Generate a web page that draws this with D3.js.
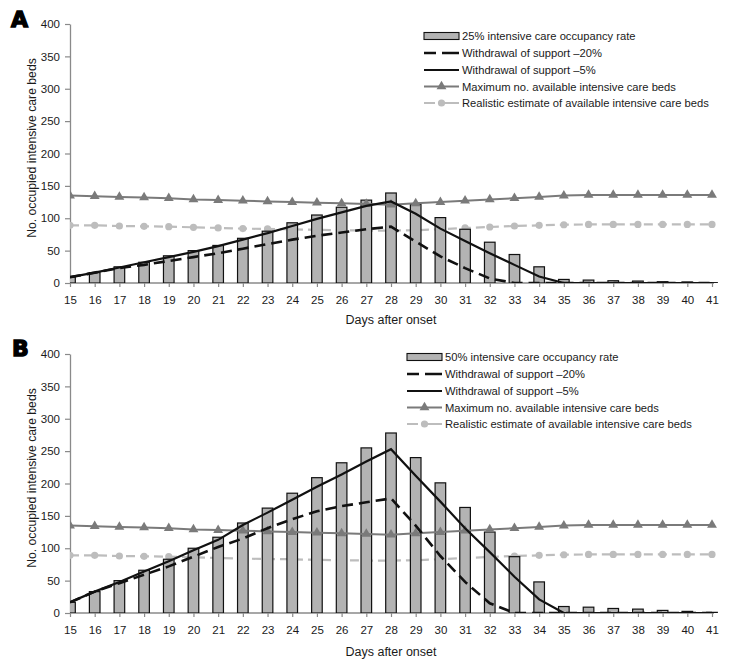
<!DOCTYPE html>
<html><head><meta charset="utf-8">
<script src="https://cdn.jsdelivr.net/npm/d3@7"></script>
<style>body{margin:0;background:#fff;} svg{display:block;font-family:"Liberation Sans",Arial,sans-serif;}</style>
</head><body><svg id="chart" width="750" height="669"></svg>
<script>
const days = [15,16,17,18,19,20,21,22,23,24,25,26,27,28,29,30,31,32,33,34,35,36,37,38,39,40,41];
const yTicks = [0,50,100,150,200,250,300,350,400];

const occupancyA = [9,16,25,32,42,50,58,69,80,93,105,117,128,139,122,101,83,63,44,25,5.5,4.5,3.5,3,2,1.5,0.5];
const withdraw5A = [9,16,24,32,40,48,57,67,77,88,99,109,119,126,107,84,65,46,28,10,0,0,0,0,0,0,0];
const withdraw20A = [9,16,23,28,34,40,46,53,60,67,73,78,83,87,64,41,23,7,0,0,0,0,0,0,0,0,0];

const occupancyB = [16.5,33,50,66,83,100,117,139,162,185,209,232,255,278,240,201,163,125,87,48,10,9,7,6,4,2.5,1];
const withdraw5B = [16.5,33,48,64,80,97,113,136,155,175,195,214,234,253,212,172,131,94,56,21,0,0,0,0,0,0,0];
const withdraw20B = [16.5,33,46,59,72,87,102,115,131,145,157,165,171,177,135,88,48,15,0,0,0,0,0,0,0,0,0];

const maxBeds = [135,134,133,132,131,129,128,127,126,125,124,123,122,121,123,125,127,129,131,133,135,136,136,136,136,136,136];
const realisticBeds = [89,89,88,87.5,87,86,85,84,83.5,83,82,81.5,81,81,81.5,83,85,86.5,88,89,90,90.5,90.5,90.5,90.5,90.5,90.5];

const legendLabelsA = ["25% intensive care occupancy rate","Withdrawal of support \u201320%","Withdrawal of support \u20135%","Maximum no. available intensive care beds","Realistic estimate of available intensive care beds"];
const legendLabelsB = ["50% intensive care occupancy rate","Withdrawal of support \u201320%","Withdrawal of support \u20135%","Maximum no. available intensive care beds","Realistic estimate of available intensive care beds"];

const svg = d3.select("#chart");
const C = {bar:"#b3b3b3", max:"#7a7a7a", real:"#bdbdbd", axis:"#8a8a8a", text:"#1a1a1a"};

function panel(id, cfg, occ, w5, w20, labels) {
  const g = svg.append("g");
  const x = d3.scalePoint().domain(days).range([70, 712]);
  const y = d3.scaleLinear().domain([0, 400]).range([cfg.y0, cfg.y1]);

  g.append("defs").append("clipPath").attr("id", "clip" + id)
    .append("rect").attr("x", 70).attr("y", cfg.y1 - 10).attr("width", 660).attr("height", cfg.y0 - cfg.y1 + 10);

  const ya = g.append("g").attr("transform", "translate(70,0)")
    .call(d3.axisLeft(y).tickValues(yTicks).tickSize(5).tickSizeOuter(0).tickPadding(5));
  const xa = g.append("g").attr("transform", `translate(0,${cfg.y0})`)
    .call(d3.axisBottom(x).tickSize(4).tickSizeOuter(0).tickPadding(9));
  [ya, xa].forEach(a => {
    a.select(".domain").attr("stroke", C.axis).attr("stroke-width", 1.3);
    a.selectAll(".tick line").attr("stroke", C.axis).attr("stroke-width", 1.2);
    a.selectAll(".tick text").attr("fill", C.text).style("font-size", "11.5px").style("font-family", "Liberation Sans, Arial, sans-serif");
  });
  xa.select(".domain").attr("d", `M70,0H714`);

  const plot = g.append("g").attr("clip-path", `url(#clip${id})`);
  const line = d3.line().x((d, i) => x(days[i])).y(d => y(d));

  plot.append("path").datum(realisticBeds).attr("d", line).attr("fill", "none")
    .attr("stroke", C.real).attr("stroke-width", 2.2).attr("stroke-dasharray", "9,5");
  plot.selectAll(".rc").data(realisticBeds).enter().append("circle")
    .attr("cx", (d, i) => x(days[i])).attr("cy", d => y(d)).attr("r", 3.6).attr("fill", C.real);

  plot.selectAll(".bar").data(occ).enter().append("rect")
    .attr("x", (d, i) => x(days[i]) - 5.3).attr("width", 10.6)
    .attr("y", d => y(d)).attr("height", d => cfg.y0 - y(d))
    .attr("fill", C.bar).attr("stroke", "#111").attr("stroke-width", 1.2);

  plot.append("path").datum(maxBeds).attr("d", line).attr("fill", "none")
    .attr("stroke", C.max).attr("stroke-width", 2);
  const tri = d3.symbol().type(d3.symbolTriangle).size(42);
  plot.selectAll(".mt").data(maxBeds).enter().append("path")
    .attr("d", tri).attr("transform", (d, i) => `translate(${x(days[i])},${y(d)})`).attr("fill", C.max);

  plot.append("path").datum(w20).attr("d", line).attr("fill", "none")
    .attr("stroke", "#111").attr("stroke-width", 2.6).attr("stroke-dasharray", "11,6");
  plot.append("path").datum(w5).attr("d", line).attr("fill", "none")
    .attr("stroke", "#111").attr("stroke-width", 2.2);

  g.append("text").attr("x", 391).attr("y", cfg.xTitleY).attr("text-anchor", "middle")
    .attr("fill", C.text).style("font-size", "12.5px").text("Days after onset");
  g.append("text").attr("transform", `translate(36,${cfg.yTitleC}) rotate(-90)`).attr("text-anchor", "middle")
    .attr("fill", C.text).style("font-size", "12.2px").text("No. occupied intensive care beds");

  g.append("text").attr("x", cfg.letterX).attr("y", cfg.letterY).attr("fill", "#000")
    .attr("stroke", "#000").attr("stroke-width", 1.4)
    .style("font-family", "DejaVu Sans, sans-serif").style("font-weight", "bold").style("font-size", "22px").text(id);

  const lg = g.append("g");
  const lx = cfg.legX, sw = 35;
  labels.forEach((t, i) => {
    const cy = cfg.legY[i];
    if (i === 0) {
      lg.append("rect").attr("x", lx).attr("y", cy - 3.5).attr("width", sw).attr("height", 7)
        .attr("fill", C.bar).attr("stroke", "#111").attr("stroke-width", 1.1);
    } else if (i === 1) {
      lg.append("line").attr("x1", lx).attr("x2", lx + sw).attr("y1", cy).attr("y2", cy)
        .attr("stroke", "#111").attr("stroke-width", 2.4).attr("stroke-dasharray", "12,6,18");
    } else if (i === 2) {
      lg.append("line").attr("x1", lx).attr("x2", lx + sw).attr("y1", cy).attr("y2", cy)
        .attr("stroke", "#111").attr("stroke-width", 2.2);
    } else if (i === 3) {
      lg.append("line").attr("x1", lx).attr("x2", lx + sw).attr("y1", cy).attr("y2", cy)
        .attr("stroke", C.max).attr("stroke-width", 2);
      lg.append("path").attr("d", tri).attr("transform", `translate(${lx + sw / 2},${cy})`).attr("fill", C.max);
    } else {
      lg.append("line").attr("x1", lx).attr("x2", lx + sw).attr("y1", cy).attr("y2", cy)
        .attr("stroke", C.real).attr("stroke-width", 2.2).attr("stroke-dasharray", "11,3,21");
      lg.append("circle").attr("cx", lx + sw / 2).attr("cy", cy).attr("r", 3.6).attr("fill", C.real);
    }
    lg.append("text").attr("x", lx + sw + 3).attr("y", cy + 4).attr("fill", C.text)
      .style("font-size", "11.2px").text(t);
  });
}

panel("A", {y0: 283, y1: 24, xTitleY: 324, yTitleC: 148, letterX: 11, letterY: 27, legX: 424, legY: [36, 53, 70, 86.5, 103]},
  occupancyA, withdraw5A, withdraw20A, legendLabelsA);
panel("B", {y0: 613, y1: 354, xTitleY: 656, yTitleC: 478, letterX: 12, letterY: 356, legX: 407, legY: [357, 374, 391, 407.5, 424]},
  occupancyB, withdraw5B, withdraw20B, legendLabelsB);
</script></body></html>
